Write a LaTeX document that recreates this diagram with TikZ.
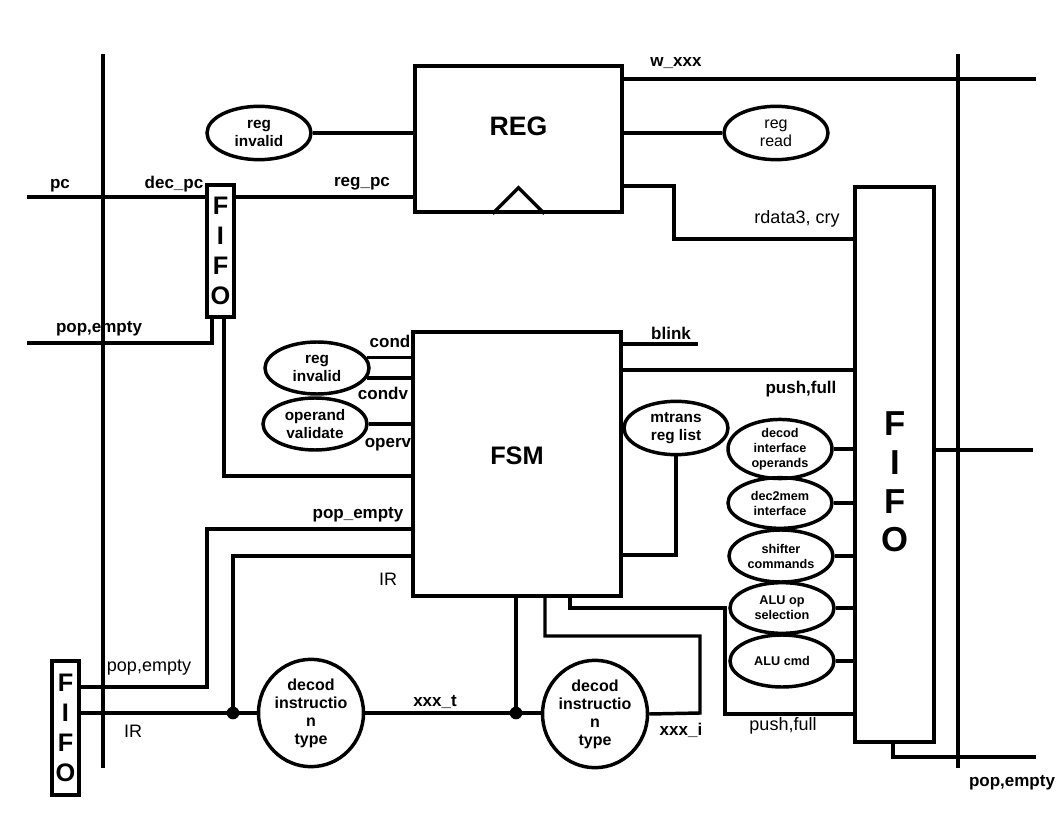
\documentclass[tikz,border=0pt]{standalone}
\usepackage{fontspec}
\setmainfont{Liberation Sans}
\usetikzlibrary{shapes.geometric,calc}
\begin{document}
\begin{tikzpicture}[x=0.75pt,y=-0.75pt,line width=2.6pt,
  blockbox/.style={draw,rectangle,inner sep=0pt},
  fifobig/.style={draw,rectangle,inner sep=0pt,align=center,
    font=\fontsize{26}{29}\selectfont\bfseries},
  fifosmall/.style={draw,rectangle,inner sep=0pt,align=center,
    minimum width=20.25pt,font=\fontsize{19}{22.3}\selectfont\bfseries},
  oval/.style={draw,ellipse,inner sep=0pt,align=center,
    minimum width=78pt,minimum height=40pt,
    font=\fontsize{11.5}{13.5}\selectfont\bfseries},
  ovalsmall/.style={oval,font=\fontsize{9.5}{11.25}\selectfont\bfseries},
  roundel/.style={draw,ellipse,inner sep=0pt,align=center,
    minimum width=78.75pt,minimum height=80.5pt,
    font=\fontsize{12}{13.5}\selectfont\bfseries},
  lbl/.style={inner sep=0pt,font=\fontsize{12.75}{14}\selectfont\bfseries},
  lblr/.style={inner sep=0pt,font=\fontsize{13.5}{15}\selectfont},
  dot/.style={circle,fill,inner sep=0pt,minimum size=9.5pt}]
\useasboundingbox (0,0) rectangle (1056,816);

% ---- blocks ----
\node[blockbox,minimum width=155.25pt,minimum height=109.5pt,
  label={[font=\fontsize{20}{22}\selectfont\bfseries,yshift=9.5pt]center:REG}]
  (REG) at (518.5,139) {};
\node[blockbox,minimum width=156pt,minimum height=198pt,
  label={[font=\fontsize{19}{21}\selectfont\bfseries,yshift=6pt]center:FSM}]
  (FSM) at (517,464) {};
\node[fifobig,minimum width=59.25pt,minimum height=416.25pt] (FIFOr) at (894.5,464.5) {};
\node[font=\fontsize{26}{29}\selectfont\bfseries,align=center,inner sep=0pt]
  (FIFOrTxt) at (895,482) {F\\I\\F\\O};
\node[fifosmall,minimum height=99pt] (fifoA) at (220.5,251) {F\\I\\F\\O};
\node[fifosmall,minimum height=100.5pt] (fifoB) at (65.5,728) {F\\I\\F\\O};

% clock input of REG
\draw ($(REG.south)+(-26,0)$) -- ($(REG.south)+(0,-26)$) -- ($(REG.south)+(26,0)$);

% ---- ellipses ----
\node[oval] (regInvTop) at (259,133) {reg\\invalid};
\node[oval,font=\fontsize{12}{13.5}\selectfont] (regRead) at (776,133) {reg\\read};
\node[oval,minimum height=39pt] (regInv2) at (317,368) {reg\\invalid};
\node[oval,minimum height=39pt] (opVal) at (315,424) {operand\\validate};
\node[oval] (mtrans) at (676,428) {mtrans\\reg list};
\node[ovalsmall,minimum height=39pt] (decIf) at (780,449) {decod\\interface\\operands};
\node[ovalsmall,minimum height=38pt] (dec2mem) at (780,503) {dec2mem\\interface};
\node[ovalsmall,minimum height=39pt] (shifter) at (781,556) {shifter\\commands};
\node[ovalsmall,minimum height=38pt] (aluOp) at (782,608) {ALU op\\selection};
\node[ovalsmall,minimum height=39pt] (aluCmd) at (782,661) {ALU cmd};
\node[roundel] (decT1) at (311,713) {decod\\instructio\\n\\type};
\node[roundel] (decT2) at (595,714) {decod\\instructio\\n\\type};

% ---- buses ----
\coordinate (busLT) at (103,54);
\coordinate (busLB) at (103,768);
\coordinate (busRT) at (958,54);
\coordinate (busRB) at (958,768);
\draw (busLT) -- (busLB);
\draw (busRT) -- (busRB);

% ---- REG connections ----
\coordinate (wEnd) at (1036,79);
\draw (wEnd -| REG.east) -- (wEnd);
\draw (regRead.west -| REG.east) -- (regRead.west);
\coordinate (rdA) at (674,186);
\coordinate (rdB) at (674,239);
\draw (rdA -| REG.east) -- (rdA) -- (rdB) -- (rdB -| FIFOr.west);
\draw (regInvTop.east) -- (regInvTop.east -| REG.west);
\coordinate (pcL) at (27,197);
\draw (pcL) -- (pcL -| fifoA.west);
\draw (pcL -| fifoA.east) -- (pcL -| REG.west);

% ---- top FIFO outputs ----
\coordinate (peA) at (212,343);
\coordinate (peL) at (27,343);
\draw (peA |- fifoA.south) -- (peA) -- (peL);
\coordinate (fbA) at (224,476);
\draw (fbA |- fifoA.south) -- (fbA) -- (fbA -| FSM.west);

% ---- FSM left side ----
\draw (regInv2.12) -- (regInv2.12 -| FSM.west);
\draw (regInv2.-11) -- (regInv2.-11 -| FSM.west);
\draw (opVal.east) -- (opVal.east -| FSM.west);
\coordinate (pe1) at (207,529);
\coordinate (pe2) at (207,687);
\draw (pe1 -| FSM.west) -- (pe1) -- (pe2) -- (pe2 -| fifoB.east);
\coordinate (ir1) at (233,556);
\coordinate (dotA) at (233,713);
\draw (ir1 -| FSM.west) -- (ir1) -- (dotA);

% ---- instruction decode chain ----
\draw (dotA -| fifoB.east) -- (decT1.west);
\draw (decT1.east) -- (decT1.east -| decT2.west);
\coordinate (dotB) at (516,713);
\draw (dotB) -- (dotB |- FSM.south);
\node[dot] (jA) at (dotA) {};
\node[dot] (jB) at (dotB) {};
\coordinate (xi1) at (700,713);
\coordinate (xi2) at (700,636);
\coordinate (xi3) at (545,636);
\draw (decT2.east) -- (xi1) -- (xi2) -- (xi3) -- (xi3 |- FSM.south);
\coordinate (pb1) at (570,608);
\coordinate (pb2) at (725,608);
\coordinate (pb3) at (725,714);
\draw (pb1 |- FSM.south) -- (pb1) -- (pb2) -- (pb3) -- (pb3 -| FIFOr.west);

% ---- FSM right side ----
\coordinate (blinkEnd) at (698,344);
\draw (blinkEnd -| FSM.east) -- (blinkEnd);
\coordinate (pf) at (700,370);
\draw (pf -| FSM.east) -- (pf -| FIFOr.west);
\coordinate (mt1) at (676,555);
\draw (mtrans.south) -- (mt1) -- (mt1 -| FSM.east);
\draw (decIf.east) -- (decIf.east -| FIFOr.west);
\draw (dec2mem.east) -- (dec2mem.east -| FIFOr.west);
\draw (shifter.east) -- (shifter.east -| FIFOr.west);
\draw (aluOp.east) -- (aluOp.east -| FIFOr.west);
\draw (aluCmd.east) -- (aluCmd.east -| FIFOr.west);

% ---- right FIFO outputs ----
\coordinate (outR) at (1033,450);
\draw (outR -| FIFOr.east) -- (outR);
\coordinate (pr1) at (893,757);
\coordinate (prE) at (1036,757);
\draw (pr1 |- FIFOr.south) -- (pr1) -- (prE);

% ---- signal labels ----
\node[lbl] (tW) at (676,63) {w\_xxx};
\node[lblr] (tRd) at (797,219) {rdata3, cry};
\node[lbl] (tPc) at (60,186) {pc};
\node[lbl] (tDecPc) at (174,184) {dec\_pc};
\node[lbl] (tRegPc) at (362,184) {reg\_pc};
\node[lbl] (tPopA) at (99,329) {pop,empty};
\node[lbl] (tCond) at (390,341) {cond};
\node[lbl] (tCondv) at (383,393) {condv};
\node[lbl] (tOperv) at (388,445) {operv};
\node[lbl] (tPopE) at (358,515) {pop\_empty};
\node[lblr] (tIrA) at (388,579) {IR};
\node[lbl] (tBlink) at (671,333) {blink};
\node[lbl] (tPushA) at (801,389) {push,full};
\node[lblr] (tPopB) at (149,668) {pop,empty};
\node[lblr] (tIrB) at (133,731) {IR};
\node[lbl] (tXt) at (435,702) {xxx\_t};
\node[lbl] (tXi) at (681,730) {xxx\_i};
\node[lblr] (tPushB) at (783,726) {push,full};
\node[lbl] (tPopC) at (1012,783) {pop,empty};
\end{tikzpicture}
\end{document}
